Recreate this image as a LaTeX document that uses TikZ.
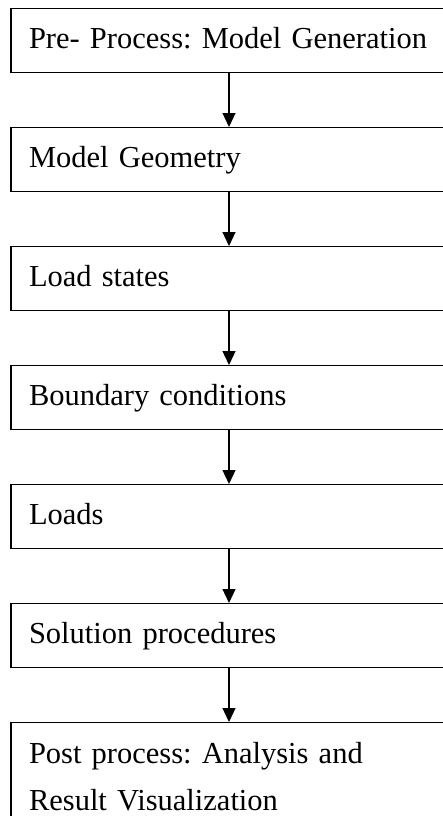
\documentclass[tikz,border=0pt]{standalone}
\usepackage{fontspec}
\setmainfont{Liberation Serif}
\usetikzlibrary{positioning,arrows.meta}
\frenchspacing
\hyphenpenalty=10000

\begin{document}
\begin{tikzpicture}[x=1pt,y=1pt,node distance=53.8pt,
  stage/.style={draw,line width=1.2pt,anchor=north,text width=400pt,
    inner xsep=18pt,inner ysep=0pt,minimum height=64pt,text height=22pt,
    text depth=7pt,align=left,font=\fontsize{30.5}{47}\selectfont},
  flow/.style={line width=1.2pt,-{Triangle[length=14pt,width=13pt]}}]
\useasboundingbox (0,0) rectangle (443,-816);
\clip (0,0) rectangle (443,-816);
\node[stage] (pre) at (229,-8) {Pre- Process: Model Generation};
\node[stage,below=of pre] (geom) {Model Geometry};
\node[stage,below=of geom] (states) {Load states};
\node[stage,below=of states] (bc) {Boundary conditions};
\node[stage,below=of bc] (loads) {Loads};
\node[stage,below=of loads] (solve) {Solution procedures};
\node[stage,below=of solve,minimum height=114pt,text depth=54pt] (post)
  {Post process: Analysis and\\Result Visualization};
\foreach \a/\b in {pre/geom,geom/states,states/bc,bc/loads,loads/solve,solve/post}
  \draw[flow] (\a) -- (\b);
\end{tikzpicture}
\end{document}
